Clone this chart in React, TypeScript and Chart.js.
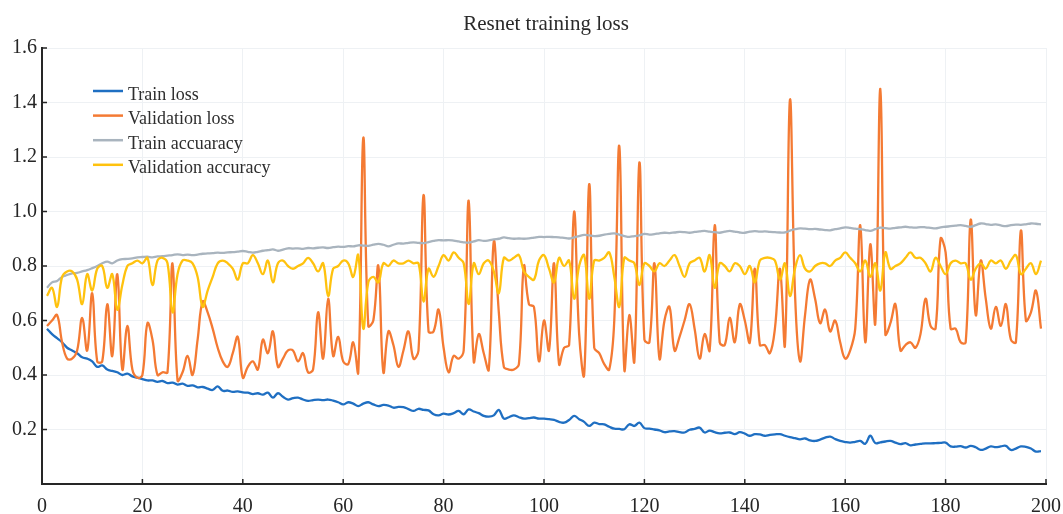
import { useEffect, useRef } from 'react';
import { Chart, registerables } from 'chart.js';

Chart.register(...registerables);

// Per-epoch metrics (epochs 1..199)
const trainLoss = [
  0.57, 0.55, 0.535, 0.52, 0.5, 0.49, 0.48, 0.465, 0.46, 0.45,
  0.43, 0.435, 0.42, 0.415, 0.41, 0.4, 0.405, 0.395, 0.39, 0.385,
  0.38, 0.38, 0.375, 0.378, 0.37, 0.372, 0.365, 0.368, 0.36, 0.362,
  0.355, 0.356, 0.35, 0.345, 0.358, 0.342, 0.343, 0.338, 0.34, 0.336,
  0.335, 0.33, 0.333, 0.328, 0.335, 0.317, 0.333, 0.32, 0.31, 0.315,
  0.317, 0.31, 0.305, 0.308, 0.31, 0.308, 0.31, 0.306, 0.3, 0.292,
  0.3, 0.295, 0.286, 0.295, 0.3, 0.292, 0.286, 0.29, 0.288, 0.28,
  0.283, 0.282, 0.275, 0.268, 0.276, 0.272, 0.27, 0.256, 0.252, 0.258,
  0.255, 0.26, 0.268, 0.256, 0.274, 0.266, 0.26, 0.25, 0.247, 0.252,
  0.272, 0.24, 0.245, 0.252, 0.245, 0.24, 0.242, 0.244, 0.24, 0.24,
  0.238, 0.235, 0.228, 0.225, 0.235, 0.25, 0.238, 0.228, 0.213, 0.225,
  0.22, 0.219, 0.21, 0.203, 0.202, 0.201, 0.219, 0.213, 0.225, 0.205,
  0.203, 0.2, 0.197, 0.19, 0.193, 0.194, 0.19, 0.189, 0.199, 0.202,
  0.207, 0.189, 0.196, 0.19, 0.186, 0.188, 0.189, 0.183, 0.19, 0.185,
  0.177, 0.183, 0.182, 0.177, 0.18, 0.182, 0.183, 0.177, 0.172, 0.168,
  0.164, 0.167, 0.16, 0.158, 0.163, 0.17, 0.174, 0.165, 0.158, 0.154,
  0.152, 0.155, 0.158, 0.148, 0.177, 0.15, 0.153, 0.156, 0.158, 0.152,
  0.146, 0.15, 0.142, 0.145, 0.147, 0.149, 0.149, 0.15, 0.151, 0.152,
  0.138, 0.137, 0.139, 0.134, 0.14, 0.135, 0.125, 0.13, 0.138, 0.135,
  0.138, 0.14, 0.125, 0.13, 0.138, 0.136, 0.13, 0.119, 0.121,
];

const validationLoss = [
  0.58, 0.6, 0.62, 0.52, 0.46, 0.46, 0.49, 0.61, 0.49, 0.7,
  0.45, 0.45, 0.66, 0.47, 0.77, 0.42, 0.58, 0.42, 0.39, 0.4,
  0.59, 0.53, 0.4, 0.41, 0.41, 0.81, 0.38, 0.41, 0.47, 0.4,
  0.53, 0.67, 0.63, 0.57, 0.5, 0.45, 0.43, 0.48, 0.54, 0.39,
  0.43, 0.45, 0.42, 0.53, 0.48, 0.56, 0.43, 0.46, 0.49, 0.49,
  0.45, 0.48, 0.41, 0.42, 0.63, 0.46, 0.68, 0.47, 0.54, 0.45,
  0.44, 0.52, 0.41, 1.27, 0.58, 0.6, 0.8, 0.41, 0.56, 0.51,
  0.43, 0.49, 0.56, 0.46, 0.49, 1.06, 0.56, 0.56, 0.64, 0.5,
  0.41, 0.47, 0.46, 0.49, 1.04, 0.45, 0.55, 0.48, 0.42, 0.89,
  0.63, 0.43, 0.42, 0.42, 0.44, 0.8, 0.66, 0.65, 0.45, 0.6,
  0.49, 0.81, 0.44, 0.5, 0.51, 1.0, 0.55, 0.4, 1.1, 0.5,
  0.48, 0.44, 0.42, 0.6, 1.24, 0.42, 0.62, 0.45, 1.18, 0.53,
  0.52, 0.81, 0.46, 0.6, 0.65, 0.49, 0.54, 0.6, 0.66, 0.57,
  0.46, 0.55, 0.49, 0.95, 0.52, 0.51, 0.61, 0.52, 0.66, 0.6,
  0.52, 0.79, 0.51, 0.51, 0.48, 0.57, 0.79, 0.51, 1.41, 0.7,
  0.45, 0.62, 0.75, 0.68, 0.59, 0.64, 0.56, 0.6, 0.52, 0.46,
  0.49, 0.57, 0.95, 0.52, 0.88, 0.59, 1.45, 0.55, 0.59, 0.66,
  0.49, 0.51, 0.52, 0.5, 0.55, 0.68, 0.58, 0.57, 0.9, 0.85,
  0.57, 0.57, 0.52, 0.52, 0.97, 0.62, 0.82, 0.68, 0.57, 0.65,
  0.58, 0.66, 0.53, 0.52, 0.93, 0.6, 0.63, 0.71, 0.57,
];

const trainAccuracy = [
  0.72, 0.74, 0.745, 0.76, 0.767, 0.773, 0.775, 0.78, 0.785, 0.792,
  0.8, 0.81, 0.816, 0.81, 0.82, 0.825, 0.826, 0.828, 0.832, 0.833,
  0.834, 0.832, 0.835, 0.836, 0.838, 0.84, 0.843, 0.84, 0.842, 0.84,
  0.842, 0.845, 0.846, 0.847, 0.849, 0.848, 0.85, 0.851, 0.853, 0.855,
  0.852, 0.849, 0.852, 0.856, 0.858, 0.861, 0.856, 0.86, 0.865, 0.864,
  0.865, 0.863, 0.866, 0.865, 0.867, 0.868, 0.866, 0.869, 0.871, 0.87,
  0.873, 0.872, 0.876, 0.875, 0.874, 0.878, 0.881, 0.878, 0.872, 0.878,
  0.883, 0.882, 0.885, 0.887, 0.885, 0.884, 0.888, 0.892, 0.895, 0.894,
  0.895, 0.893, 0.89, 0.887, 0.886, 0.89, 0.895, 0.892, 0.894, 0.898,
  0.9, 0.905, 0.902, 0.9, 0.901, 0.9, 0.901, 0.904, 0.907, 0.906,
  0.907, 0.906, 0.905, 0.903, 0.901, 0.905, 0.91, 0.914, 0.912, 0.91,
  0.911, 0.915, 0.918, 0.92, 0.915, 0.91, 0.907, 0.91, 0.912, 0.918,
  0.915, 0.917, 0.92, 0.922, 0.921, 0.923, 0.925, 0.924, 0.922, 0.925,
  0.927, 0.929, 0.926, 0.924, 0.922, 0.926, 0.929, 0.926, 0.923, 0.922,
  0.926, 0.928, 0.926, 0.927, 0.925, 0.924, 0.923, 0.923, 0.93, 0.935,
  0.938, 0.937, 0.935, 0.936, 0.934, 0.932, 0.931, 0.935, 0.938, 0.942,
  0.94, 0.937, 0.935, 0.932, 0.929, 0.935, 0.941, 0.939, 0.937, 0.94,
  0.942, 0.944, 0.942, 0.941, 0.943, 0.942, 0.94, 0.938, 0.942, 0.944,
  0.946, 0.948, 0.95, 0.947, 0.944, 0.95, 0.956, 0.954, 0.951, 0.953,
  0.949, 0.946, 0.95, 0.952, 0.951, 0.953, 0.956, 0.955, 0.953,
];

const validationAccuracy = [
  0.69, 0.72, 0.65, 0.76, 0.78, 0.78, 0.75, 0.66, 0.77, 0.71,
  0.79, 0.8, 0.72, 0.77, 0.64, 0.73, 0.8, 0.81, 0.82, 0.81,
  0.83, 0.73, 0.82, 0.83, 0.81, 0.63, 0.77, 0.82, 0.82, 0.81,
  0.76, 0.65, 0.71, 0.76, 0.81, 0.82, 0.81, 0.79, 0.75, 0.81,
  0.81, 0.84, 0.81, 0.77, 0.82, 0.74, 0.81, 0.82, 0.8, 0.79,
  0.8, 0.81, 0.83, 0.81, 0.78, 0.81, 0.69, 0.79, 0.8, 0.82,
  0.81, 0.76, 0.84, 0.57, 0.74, 0.76, 0.74, 0.81, 0.8, 0.82,
  0.81, 0.81, 0.82, 0.81, 0.81, 0.67, 0.79, 0.76, 0.8, 0.84,
  0.82, 0.85, 0.83, 0.81, 0.66, 0.81, 0.77, 0.81, 0.82, 0.78,
  0.7, 0.83, 0.82, 0.83, 0.84, 0.78, 0.76, 0.75, 0.82, 0.84,
  0.79, 0.74, 0.83, 0.8, 0.82, 0.68, 0.8, 0.84, 0.68, 0.82,
  0.82, 0.83, 0.85, 0.76, 0.65, 0.83, 0.82, 0.81, 0.73, 0.81,
  0.8, 0.78, 0.81, 0.8, 0.82, 0.84, 0.8, 0.76, 0.81, 0.82,
  0.83, 0.78, 0.84, 0.72, 0.81, 0.8, 0.78, 0.81, 0.8, 0.77,
  0.8, 0.74, 0.82, 0.83, 0.83, 0.82, 0.75, 0.81, 0.69, 0.79,
  0.84, 0.79, 0.78, 0.8, 0.81, 0.81, 0.8, 0.82, 0.83, 0.85,
  0.83, 0.81, 0.78, 0.82, 0.76, 0.81, 0.71, 0.85, 0.79, 0.8,
  0.81, 0.83, 0.85, 0.83, 0.83, 0.81, 0.78, 0.83, 0.8, 0.77,
  0.81, 0.82, 0.81, 0.81, 0.75, 0.79, 0.81, 0.79, 0.82, 0.81,
  0.82, 0.79, 0.82, 0.84, 0.77, 0.79, 0.81, 0.77, 0.82,
];

const seriesLabels = ['Train loss', 'Validation loss', 'Train accuaracy', 'Validation accuracy'];
const seriesColors = ['#1f6fc2', '#f47a33', '#a9b4be', '#ffc20e'];
const seriesValues = [trainLoss, validationLoss, trainAccuracy, validationAccuracy];

const xTickValues = [0, 20, 40, 60, 80, 100, 120, 140, 160, 180, 200];
const yTickValues = [0.2, 0.4, 0.6, 0.8, 1.0, 1.2, 1.4, 1.6];
const titleText = 'Resnet training loss';

const SERIF = "'Liberation Serif', 'Times New Roman', serif";
const AXIS_COLOR = '#262626';
const GRID_COLOR = '#eef1f4';

// Title centred over the plot area
const plotTitle = {
  id: 'plotTitle',
  afterDraw(chart: any) {
    const { ctx, chartArea } = chart;
    ctx.save();
    ctx.font = `21px ${SERIF}`;
    ctx.fillStyle = '#2a2a2a';
    ctx.textAlign = 'center';
    ctx.textBaseline = 'alphabetic';
    ctx.fillText(titleText, (chartArea.left + chartArea.right) / 2 + 2, 30);
    ctx.restore();
  },
};

// Short tick marks drawn on the inner side of both axes
const inwardTicks = {
  id: 'inwardTicks',
  afterDatasetsDraw(chart: any) {
    const { ctx, chartArea, scales } = chart;
    ctx.save();
    ctx.strokeStyle = AXIS_COLOR;
    ctx.lineWidth = 1.5;
    ctx.beginPath();
    for (const v of xTickValues) {
      const px = scales.x.getPixelForValue(v);
      ctx.moveTo(px, chartArea.bottom);
      ctx.lineTo(px, chartArea.bottom - 5);
    }
    for (const v of yTickValues) {
      const py = scales.y.getPixelForValue(v);
      ctx.moveTo(chartArea.left, py);
      ctx.lineTo(chartArea.left + 5, py);
    }
    ctx.stroke();
    ctx.restore();
  },
};

// Legend placed inside the plot, upper left
const innerLegend = {
  id: 'innerLegend',
  afterDraw(chart: any) {
    const { ctx } = chart;
    ctx.save();
    ctx.font = `18px ${SERIF}`;
    ctx.textAlign = 'left';
    ctx.textBaseline = 'alphabetic';
    chart.data.datasets.forEach((ds: any, i: number) => {
      const y = 91 + i * 24.6;
      ctx.strokeStyle = ds.borderColor;
      ctx.lineWidth = 2.5;
      ctx.beginPath();
      ctx.moveTo(93, y);
      ctx.lineTo(123, y);
      ctx.stroke();
      ctx.fillStyle = '#2e2e2e';
      ctx.fillText(ds.label, 128, y + 8.5);
    });
    ctx.restore();
  },
};

export default function App() {
  const canvasRef = useRef<HTMLCanvasElement | null>(null);

  useEffect(() => {
    const canvas = canvasRef.current;
    if (!canvas) return;
    const epochs = trainLoss.map((_, i) => i + 1);

    const chart = new Chart(canvas, {
      type: 'line',
      data: {
        datasets: seriesValues.map((values, i) => ({
          label: seriesLabels[i],
          data: values.map((y, j) => ({ x: epochs[j], y })),
          borderColor: seriesColors[i],
          backgroundColor: seriesColors[i],
          borderWidth: 2.3,
          pointRadius: 0,
          tension: 0.4,
          fill: false,
          order: 3 - i,
        })),
      },
      options: {
        responsive: false,
        animation: false,
        devicePixelRatio: 1,
        layout: { padding: { left: 0, right: 17, top: 48, bottom: 0 } },
        plugins: {
          legend: { display: false },
          tooltip: { enabled: false },
          title: { display: false },
        },
        scales: {
          x: {
            type: 'linear',
            min: 0,
            max: 200,
            afterBuildTicks: (scale: any) => {
              scale.ticks = xTickValues.map((value) => ({ value }));
            },
            afterFit: (scale: any) => {
              scale.height = 30;
              scale.paddingLeft = 0;
              scale.paddingRight = 0;
            },
            grid: { color: GRID_COLOR, drawTicks: false },
            border: { color: AXIS_COLOR, width: 2 },
            ticks: {
              color: AXIS_COLOR,
              font: { family: SERIF, size: 20 },
              padding: 11,
              maxRotation: 0,
              autoSkip: false,
            },
          },
          y: {
            type: 'linear',
            min: 0,
            max: 1.6,
            afterBuildTicks: (scale: any) => {
              scale.ticks = [0, ...yTickValues].map((value) => ({ value }));
            },
            afterFit: (scale: any) => {
              scale.width = 42;
              scale.paddingTop = 0;
              scale.paddingBottom = 0;
            },
            grid: { color: GRID_COLOR, drawTicks: false },
            border: { color: AXIS_COLOR, width: 2 },
            ticks: {
              color: AXIS_COLOR,
              font: { family: SERIF, size: 20 },
              padding: 5,
              autoSkip: false,
              callback: (v: any) => (Number(v) === 0 ? '' : Number(v).toFixed(1)),
            },
          },
        },
      },
      plugins: [plotTitle, inwardTicks, innerLegend],
    });

    return () => chart.destroy();
  }, []);

  return (
    <div style={{ position: 'fixed', left: 0, top: 0, width: 1063, height: 514, background: '#ffffff' }}>
      <canvas ref={canvasRef} width={1063} height={514} style={{ display: 'block' }} />
    </div>
  );
}
